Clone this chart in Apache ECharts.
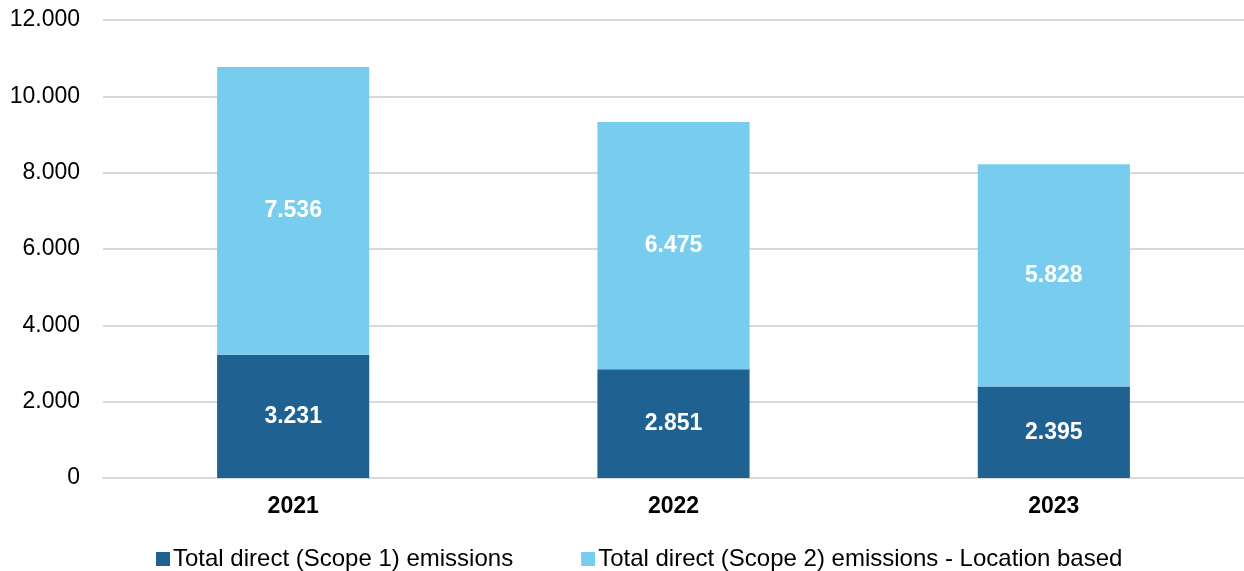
<!DOCTYPE html>
<html><head><meta charset="utf-8">
<script src="https://cdn.jsdelivr.net/npm/echarts@6/dist/echarts.min.js"></script>
<style>html,body{margin:0;padding:0;background:#fff}#c{width:1244px;height:571px}</style>
</head><body><div id="c"></div>
<script>
const categories = ['2021', '2022', '2023'];
const scope1 = [3231, 2851, 2395];
const scope2 = [7536, 6475, 5828];
const seriesNames = ['Total direct (Scope 1) emissions', 'Total direct (Scope 2) emissions - Location based'];
const fmt = v => String(v).replace(/\B(?=(\d{3})+(?!\d))/g, '.');
const chart = echarts.init(document.getElementById('c'));
const lbl = {show: true, position: 'inside', color: '#fff', fontWeight: 'bold', fontSize: 23, fontFamily: 'Liberation Sans', formatter: p => fmt(p.value)};
chart.setOption({
  animation: false,
  textStyle: {fontFamily: 'Liberation Sans'},
  grid: {left: 103, right: 0, top: 20, bottom: 93, containLabel: false},
  legend: {top: 542, left: 151, itemWidth: 14, itemHeight: 14, itemGap: 68, itemStyle: {borderWidth: 0}, icon: 'rect',
    textStyle: {fontSize: 24, color: '#000', fontFamily: 'Liberation Sans', padding: [0, 0, 0, -2]}, data: seriesNames},
  xAxis: {type: 'category', data: categories, axisTick: {show: false},
    axisLine: {show: true, lineStyle: {color: '#d9d9d9', width: 2}},
    axisLabel: {fontSize: 23, fontWeight: 'bold', color: '#000', margin: 17}},
  yAxis: {type: 'value', min: 0, max: 12000, interval: 2000,
    axisLabel: {fontSize: 23, color: '#000', margin: 23, formatter: v => fmt(v)},
    splitLine: {lineStyle: {color: '#d9d9d9', width: 2}}, axisLine: {show: false}, axisTick: {show: false}},
  series: [
    {name: seriesNames[0], type: 'bar', stack: 'a', data: scope1, barWidth: '40%', itemStyle: {color: '#1f6292'}, label: lbl},
    {name: seriesNames[1], type: 'bar', stack: 'a', data: scope2, barWidth: '40%', itemStyle: {color: '#78cdef'}, label: lbl}
  ]
});
</script></body></html>
